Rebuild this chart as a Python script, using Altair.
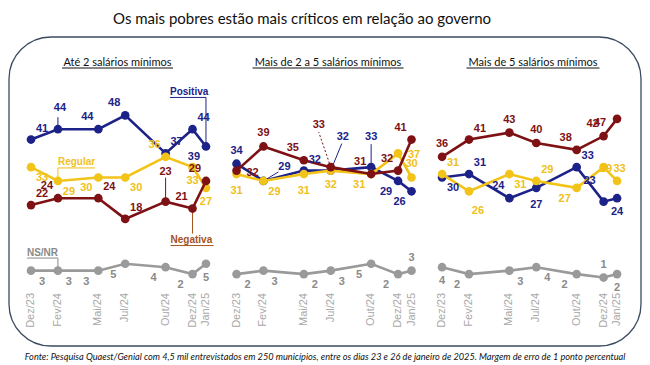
import altair as alt
import pandas as pd

# ---------------- data ----------------
dates = ["Dez/23", "Fev/24", "Mai/24", "Jul/24", "Out/24", "Dez/24", "Jan/25"]
month_index = [0, 2, 5, 7, 10, 12, 13]
panels = ["Até 2 salários mínimos", "Mais de 2 a 5 salários mínimos", "Mais de 5 salários mínimos"]
series_names = ["Positiva", "Regular", "Negativa", "NS/NR"]

positiva = [[41, 44, 44, 48, 37, 44, 39], [34, 29, 32, 32, 33, 29, 26], [30, 31, 24, 27, 33, 23, 24]]
regular = [[33, 29, 30, 30, 36, 33, 27], [31, 29, 31, 32, 31, 37, 30], [31, 26, 31, 29, 27, 33, 29]]
negativa = [[22, 24, 24, 18, 23, 21, 29], [32, 39, 35, 33, 31, 32, 41], [36, 41, 43, 40, 38, 42, 47]]
nsnr = [[3, 3, 3, 5, 4, 2, 5], [2, 3, 2, 3, 5, 2, 3], [4, 2, 3, 4, 2, 1, 2]]

title_text = "Os mais pobres estão mais críticos em relação ao governo"
source_text = ("Fonte: Pesquisa Quaest/Genial com 4,5 mil entrevistados em 250 municípios, entre os dias 23 e 26 "
               "de janeiro de 2025. Margem de erro de 1 ponto percentual")

# label placement codes (per series, per panel, per date)
label_pos = {
    "Positiva": [["ar", "a2", "al", "al", "ar", "ar", "bl"],
                 ["a", "ar2", "ar", "ar3", "a3", "bl", "bl"],
                 ["br", "ar", "al", "b2", "ar", "al2", "b"]],
    "Regular": [["br", "br", "bl", "br", "al", "b", "b"],
                ["b2", "br", "b2", "b", "bl", "r", "a"],
                ["ar", "br2", "br", "ar", "bl", "r", "al"]],
    "Negativa": [["ar", "al", "ar", "ar", "a3", "al", "al"],
                 ["r", "a", "al", "al3", "al", "al", "al"],
                 ["a", "ar", "a", "a", "al", "al", "l"]],
    "NS/NR": [["br", "br", "bl", "bl", "bl", "bl", "b"],
              ["br", "br", "br", "br", "bl", "bl", "a"],
              ["b", "bl", "br", "br", "bl", "a", "b"]],
}
OFFSETS = {
    "a": (0, -13), "a2": (2, -21), "a3": (0, -30),
    "b": (0, 14), "b2": (0, 17),
    "al": (-11, -12), "al2": (-14, -21), "al3": (-12, -42),
    "ar": (11, -11), "ar2": (21, -14), "ar3": (12, -34),
    "bl": (-12, 11), "br": (11, 11), "br2": (9, 20),
    "l": (-17, 4), "r": (16, 2),
}

# leader lines: (panel, date index, series, dx px, dy px, dashed)
leaders = [
    (0, 1, "Positiva", 0, -12, False),
    (0, 4, "Negativa", 0, -24, False),
    (1, 1, "Positiva", 15, -9, False),
    (1, 3, "Positiva", 11, -27, False),
    (1, 4, "Positiva", 0, -23, False),
    (1, 3, "Negativa", -12, -35, True),
]

colors = {"Positiva": "#1c2288", "Regular": "#f2c318", "Negativa": "#7e1114", "NS/NR": "#9a9a9a"}
label_colors = {"Positiva": "#1c2288", "Regular": "#f0bf1a", "Negativa": "#7e1114", "NS/NR": "#8a8a8a"}

# ---------------- geometry ----------------
W, H = 634, 355
PX_V = 3.45
Y_TOP = 79.13
X_DOMAIN = [-1.709, 45.394]
Y_DOMAIN = [Y_TOP - H / PX_V, Y_TOP]
PX_M = W / (X_DOMAIN[1] - X_DOMAIN[0])
PANEL_SHIFT = 15.27

xs = alt.Scale(domain=X_DOMAIN, nice=False, zero=False)
ys = alt.Scale(domain=Y_DOMAIN, nice=False, zero=False)


def X(f):
    return alt.X(f, type="quantitative", scale=xs, axis=None)


def Y(f):
    return alt.Y(f, type="quantitative", scale=ys, axis=None)


series_values = {"Positiva": positiva, "Regular": regular, "Negativa": negativa, "NS/NR": nsnr}

rows = []
for p in range(3):
    for s in series_names:
        for i in range(len(dates)):
            t = month_index[i] + PANEL_SHIFT * p
            v = series_values[s][p][i]
            dx, dy = OFFSETS[label_pos[s][p][i]]
            rows.append(dict(panel=p, series=s, date=dates[i], t=t, v=v,
                             lt=t + dx / PX_M, lv=v - dy / PX_V, label=str(v)))
df = pd.DataFrame(rows)

layers = []

# frame
one = pd.DataFrame({"k": [0]})
layers.append(alt.Chart(one).mark_rect(cornerRadius=42, fillOpacity=0, stroke="#3b4a5f", strokeWidth=1.3)
              .encode(x=alt.value(1), x2=alt.value(633), y=alt.value(29), y2=alt.value(338)))

# leader lines (drawn under points)
lrows = []
for p, i, s, dx, dy, dashed in leaders:
    t = month_index[i] + PANEL_SHIFT * p
    v = series_values[s][p][i]
    lrows.append(dict(t=t, v=v, t2=t + dx / PX_M, v2=v - dy / PX_V, series=s, dashed=dashed))
ldf = pd.DataFrame(lrows)
for s in ["Positiva", "Negativa"]:
    for dashed in [False, True]:
        sub = ldf[(ldf.series == s) & (ldf.dashed == dashed)]
        if len(sub) == 0:
            continue
        mk = dict(color=colors[s], strokeWidth=1)
        if dashed:
            mk["strokeDash"] = [2, 2]
        layers.append(alt.Chart(sub).mark_rule(**mk).encode(x=X("t"), y=Y("v"), x2="t2:Q", y2="v2:Q"))

# legend annotations anchored to points: (series, panel, date idx, text dx, text baseline dy,
#  underline dy, underline x0, x1, vertical leader dy0, dy1)
legend_ann = [
    ("Positiva", 0, 6, -36, -51.5, -49, -36, 0, -49, 0),
    ("Regular", 0, 1, 0, -15.5, -13, 0, 37, -13, 0),
    ("NS/NR", 0, 1, -31, -15, -12.6, -31, 0, -12.6, 0),
    ("Negativa", 0, 5, -22, 34.5, 37, -22, 21, 0, 25),
]
legend_text_colors = {"Positiva": "#1c2288", "Regular": "#f0bf1a", "Negativa": "#a4531c", "NS/NR": "#8a8a8a"}
for s, p, i, tdx, tdy, udy, ux0, ux1, vd0, vd1 in legend_ann:
    t = month_index[i] + PANEL_SHIFT * p
    v = series_values[s][p][i]
    d = pd.DataFrame({"t": [t], "v": [v], "name": [s],
                      "ut0": [t + ux0 / PX_M], "ut1": [t + ux1 / PX_M], "uv": [v - udy / PX_V],
                      "vv0": [v - vd0 / PX_V], "vv1": [v - vd1 / PX_V]})
    c = legend_text_colors[s]
    layers.append(alt.Chart(d).mark_text(dx=tdx, dy=tdy, align="left", baseline="alphabetic",
                                         font="Liberation Sans", fontWeight="bold", fontSize=10, color=c)
                  .encode(x=X("t"), y=Y("v"), text="name:N"))
    layers.append(alt.Chart(d).mark_rule(color=c, strokeWidth=1)
                  .encode(x=X("ut0"), x2="ut1:Q", y=Y("uv")))
    layers.append(alt.Chart(d).mark_rule(color=c, strokeWidth=1)
                  .encode(x=X("t"), y=Y("vv0"), y2="vv1:Q"))

# series lines + points (z-order)
for s in ["NS/NR", "Positiva", "Regular", "Negativa"]:
    sub = df[df.series == s]
    layers.append(alt.Chart(sub).mark_line(strokeWidth=2.6, color=colors[s])
                  .encode(x=X("t"), y=Y("v"), detail="panel:N", order="t:Q"))
    layers.append(alt.Chart(sub).mark_circle(size=75, opacity=1, color=colors[s])
                  .encode(x=X("t"), y=Y("v")))

# value labels
for s in ["NS/NR", "Positiva", "Regular", "Negativa"]:
    sub = df[df.series == s]
    layers.append(alt.Chart(sub).mark_text(font="Liberation Sans", fontWeight="bold", fontSize=11,
                                           baseline="middle", align="center", color=label_colors[s])
                  .encode(x=X("lt"), y=Y("lv"), text="label:N"))

# date labels
drows = [dict(t=month_index[i] + PANEL_SHIFT * p, date=dates[i]) for p in range(3) for i in range(len(dates))]
ddf = pd.DataFrame(drows)
layers.append(alt.Chart(ddf).mark_text(angle=270, align="right", baseline="middle", font="Liberation Sans",
                                       fontSize=11, color="#a8a8a8")
              .encode(x=X("t"), y=alt.value(285), text="date:N"))

# title
layers.append(alt.Chart(pd.DataFrame({"txt": [title_text]})).mark_text(
    font="Lato", fontSize=15, color="#111111", align="center", baseline="alphabetic")
    .encode(x=alt.value(294), y=alt.value(16), text="txt:N"))

# panel subtitles with underline
sub_x = [109.5, 320, 525]
sub_w = [111, 151, 133]
pdf = pd.DataFrame({"name": panels, "cx": sub_x, "x0": [c - w / 2 for c, w in zip(sub_x, sub_w)],
                    "x1": [c + w / 2 for c, w in zip(sub_x, sub_w)]})
for k in range(3):
    row = pdf.iloc[[k]]
    layers.append(alt.Chart(row).mark_text(font="Lato", fontSize=11, color="#111111", align="center",
                                           baseline="alphabetic")
                  .encode(x=alt.value(float(sub_x[k])), y=alt.value(58), text="name:N"))
    layers.append(alt.Chart(row).mark_rule(color="#111111", strokeWidth=1)
                  .encode(x=alt.value(float(pdf.x0[k])), x2=alt.value(float(pdf.x1[k])), y=alt.value(60)))

# footnote
layers.append(alt.Chart(pd.DataFrame({"txt": [source_text]})).mark_text(
    font="Lato", fontSize=9.2, fontStyle="italic", color="#111111", align="center", baseline="alphabetic")
    .encode(x=alt.value(317), y=alt.value(352), text="txt:N"))

chart = alt.layer(*layers).properties(
    width=W, height=H, autosize=alt.AutoSizeParams(type="none"), padding=0, background="white"
).configure_view(stroke=None)

chart.save("out.html", embed_options={"renderer": "svg", "actions": False})
